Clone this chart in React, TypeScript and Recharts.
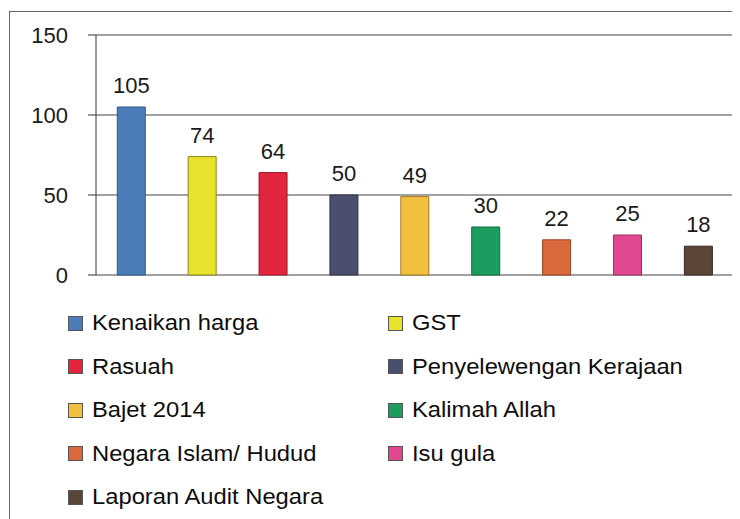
import { Bar, BarChart, CartesianGrid, Cell, LabelList, XAxis, YAxis } from "recharts";

const categories = [
  "Kenaikan harga",
  "GST",
  "Rasuah",
  "Penyelewengan Kerajaan",
  "Bajet 2014",
  "Kalimah Allah",
  "Negara Islam/ Hudud",
  "Isu gula",
  "Laporan Audit Negara"
];
const counts = [105, 74, 64, 50, 49, 30, 22, 25, 18];
const colors = ["#4a7db8", "#e8e22c", "#e2243c", "#4b4f6f", "#f3bf3f", "#1a9d5f", "#da693b", "#e2488f", "#5b4539"];
const strokes = ["#2f5a8a", "#8a8520", "#9a1a2a", "#2e3146", "#a07a20", "#0f6a40", "#9a4526", "#9a2f60", "#3a2a22"];
const yTicks = [0, 50, 100, 150];

const data = categories.map((name, i) => ({ name, value: counts[i] }));

const textFont = "Liberation Sans, Arial, sans-serif";

export default function App() {
  return (
    <div style={{ position: "relative", width: 732, height: 511, overflow: "hidden", background: "#fff" }}>
      <div
        style={{
          position: "absolute",
          left: 1,
          top: 3,
          width: 800,
          height: 600,
          borderLeft: "1.5px solid #666",
          borderTop: "1.5px solid #666"
        }}
      />
      <div style={{ position: "absolute", left: 0, top: 0 }}>
        <BarChart
          width={732}
          height={290}
          data={data}
          margin={{ top: 27, right: 6, bottom: 23, left: 0 }}
          barCategoryGap="30%"
        >
          <CartesianGrid vertical={false} stroke="#444" strokeWidth={1.2} />
          <XAxis dataKey="name" hide />
          <YAxis
            domain={[0, 150]}
            ticks={yTicks}
            width={88}
            tickSize={8}
            tickMargin={20}
            axisLine={{ stroke: "#333" }}
            tickLine={{ stroke: "#333" }}
            tick={{ fill: "#1a1a1a", fontSize: 22, fontFamily: textFont }}
          />
          <Bar dataKey="value" isAnimationActive={false}>
            {data.map((d, i) => (
              <Cell key={d.name} fill={colors[i]} stroke={strokes[i]} strokeWidth={1} />
            ))}
            <LabelList
              dataKey="value"
              position="top"
              offset={14}
              fill="#1a1a1a"
              fontSize={22}
              fontFamily={textFont}
            />
          </Bar>
        </BarChart>
      </div>
      {categories.map((name, i) => {
        const col = i % 2;
        const row = Math.floor(i / 2);
        return (
          <div
            key={name}
            style={{
              position: "absolute",
              left: col === 0 ? 60 : 380,
              top: 303 + row * 43.6,
              height: 24,
              display: "flex",
              alignItems: "center",
              fontFamily: textFont,
              fontSize: 22,
              color: "#0d0d0d",
              whiteSpace: "nowrap"
            }}
          >
            <span
              style={{
                display: "inline-block",
                width: 13,
                height: 13,
                background: colors[i],
                border: "1px solid #555",
                marginRight: 9
              }}
            />
            <span style={{ display: "inline-block", transform: "scaleX(1.08)", transformOrigin: "left center" }}>
              {name}
            </span>
          </div>
        );
      })}
    </div>
  );
}
